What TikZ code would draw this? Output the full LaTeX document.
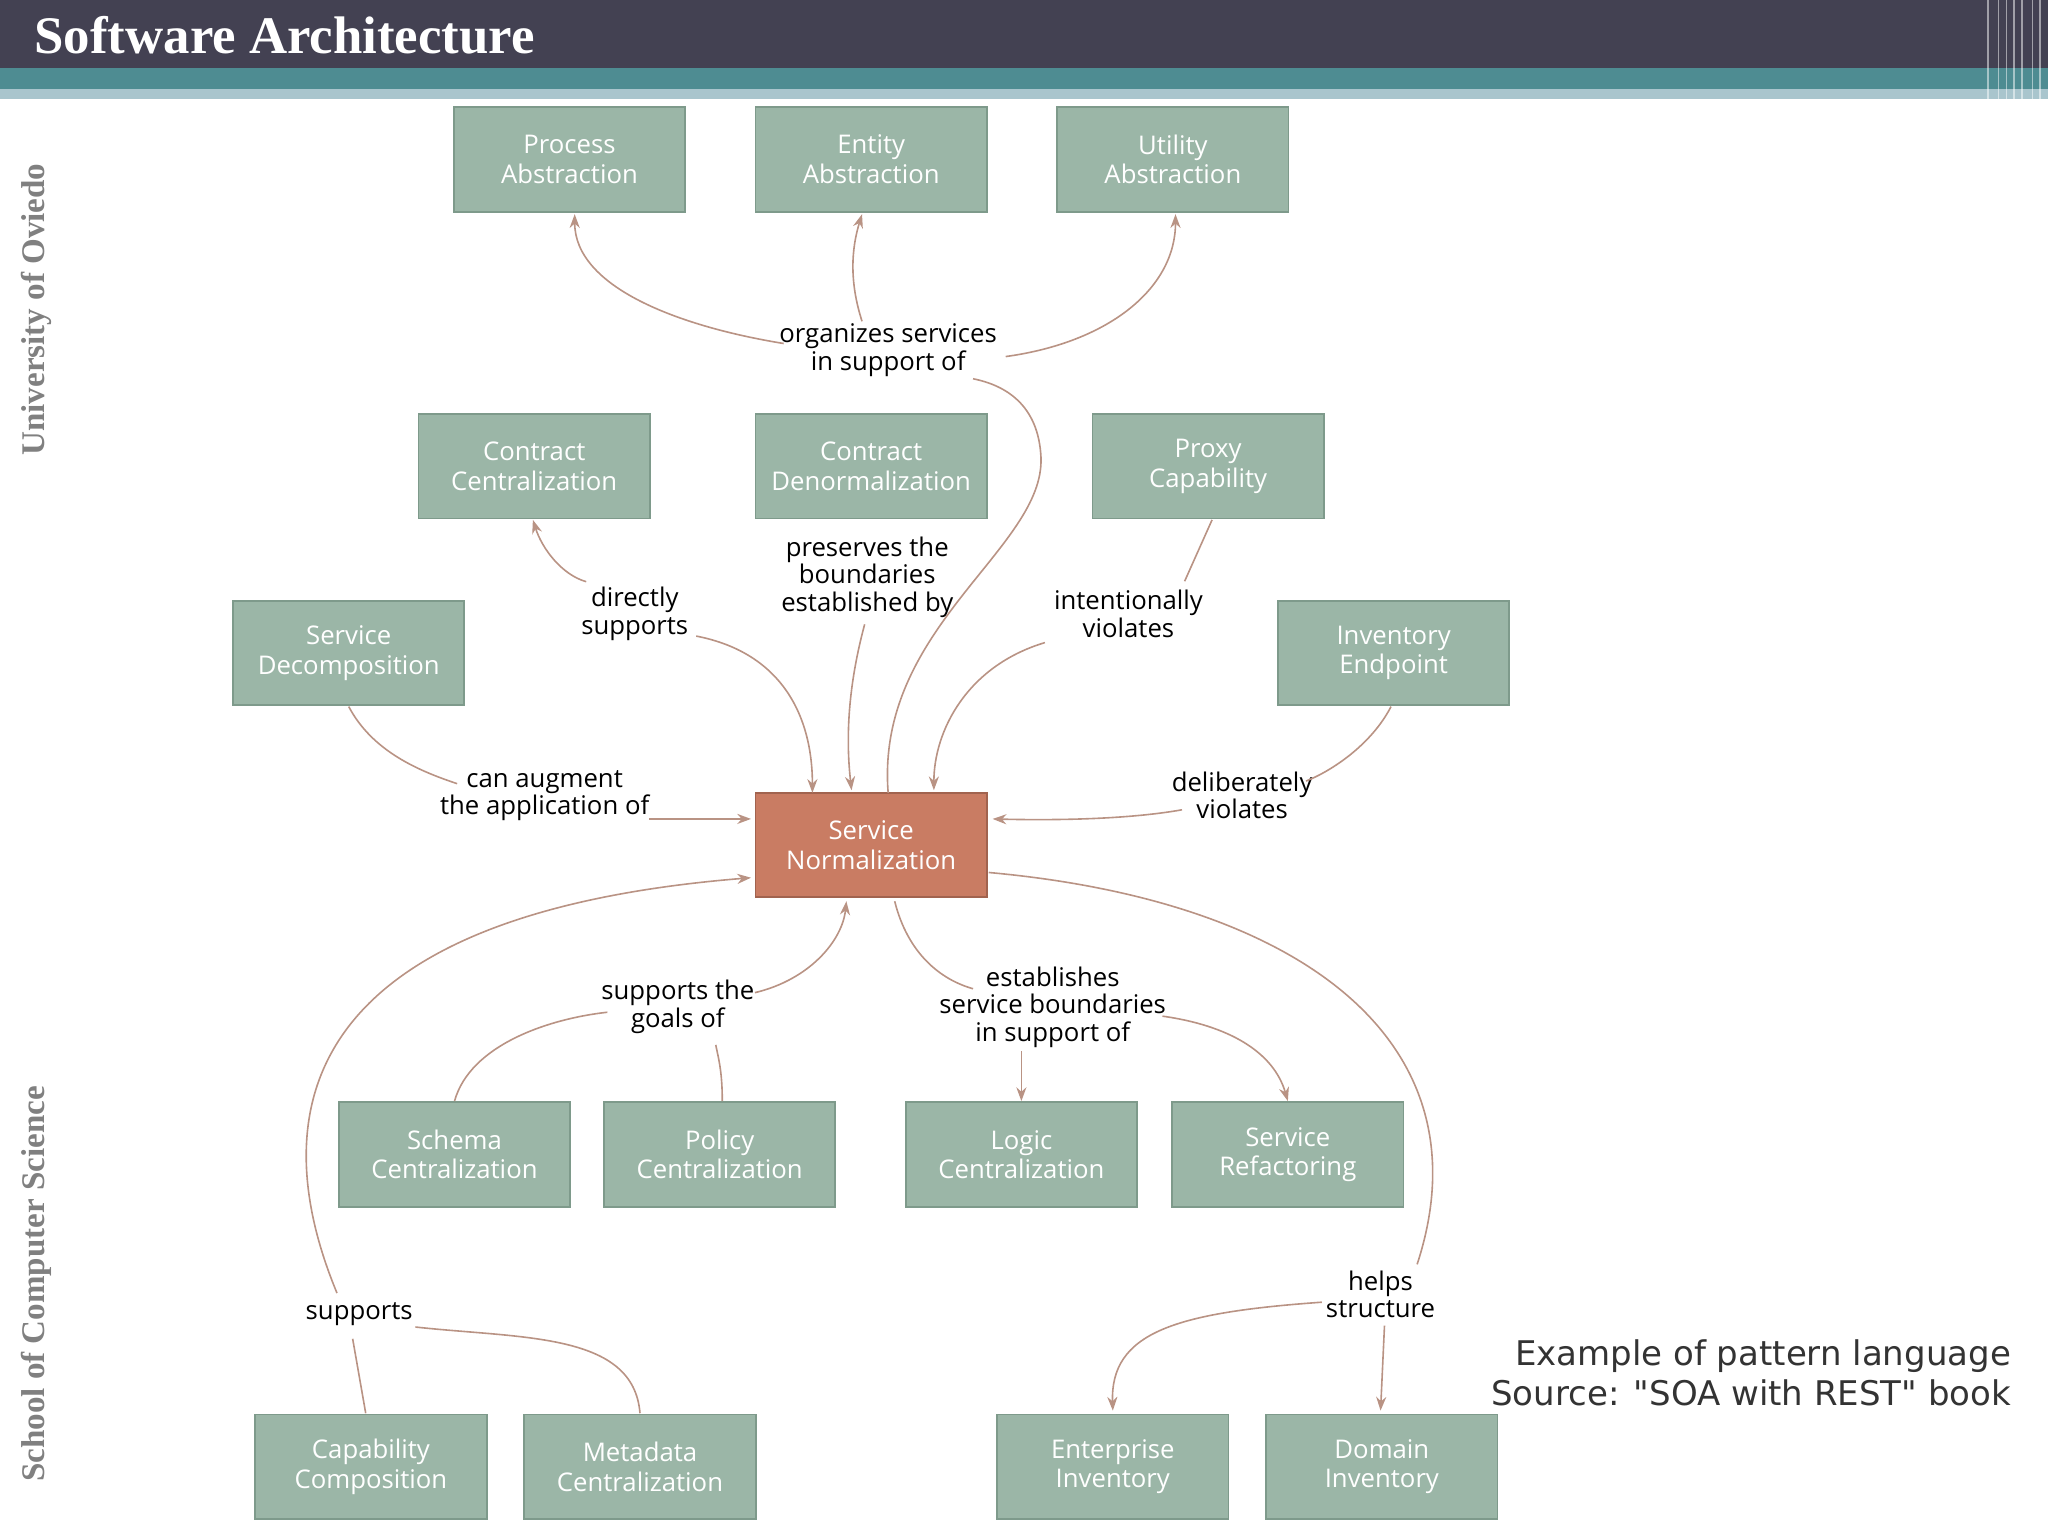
\documentclass[tikz,border=0pt]{standalone}
\usepackage{fontspec}
\setmainfont{Liberation Serif}
\newfontfamily\boxfont{Open Sans}
\newfontfamily\sidefont{DejaVu Sans}
\usetikzlibrary{arrows.meta}
\definecolor{hdr}{HTML}{434152}
\definecolor{teal1}{HTML}{4E8C92}
\definecolor{teal2}{HTML}{A9C5CD}
\definecolor{boxc}{HTML}{9BB6A7}
\definecolor{boxd}{HTML}{7E9A8B}
\definecolor{snc}{HTML}{C97C63}
\definecolor{edge}{HTML}{B99384}
\begin{document}
\begin{tikzpicture}[x=0.01cm,y=-0.01cm,
  box/.style={draw=boxd,fill=boxc,minimum width=1.77cm,minimum height=0.8cm,align=center,text=white,font=\boxfont\fontsize{5.6}{6.4}\selectfont,inner sep=0pt},
  sn/.style={box,fill=snc,draw=snc!80!black},
  lab/.style={align=center,font=\boxfont\fontsize{5.6}{6}\selectfont,inner sep=1pt},
  e/.style={draw=edge,line width=0.35pt},
  a/.style={e,-{Stealth[length=3pt,width=2.2pt]}}]
\useasboundingbox (0,0) rectangle (1568,1176);
% header
\fill[hdr] (0,0) rectangle (1568,52);
\fill[teal1] (0,52) rectangle (1568,68);
\fill[teal2] (0,68) rectangle (1568,76);
\foreach \x in {1522,1530,1536,1542,1548,1556,1562}{\draw[white,opacity=0.5,line width=0.3pt] (\x,0) -- (\x,76);}
\node[anchor=west,text=white,font=\bfseries\fontsize{11.5}{12}\selectfont] (title) at (14,27) {Software Architecture};
\node[rotate=90,text=gray,font=\bfseries\fontsize{7.2}{8}\selectfont] (uo) at (28,237) {University of Oviedo};
\node[rotate=90,text=gray,font=\bfseries\fontsize{7.2}{8}\selectfont] (scs) at (28,983) {School of Computer Science};
\node[anchor=east,align=right,font=\sidefont\fontsize{7.4}{8.8}\selectfont,text=black!80] (note) at (1552,1051) {Example of pattern language\\Source: "SOA with REST" book};
% boxes
\node[box] (pa) at (436,122) {Process\\Abstraction};
\node[box] (ea) at (667,122) {Entity\\Abstraction};
\node[box] (ua) at (898,122) {Utility\\Abstraction};
\node[box] (cc) at (409,357) {Contract\\Centralization};
\node[box] (cd) at (667,357) {Contract\\Denormalization};
\node[box] (pc) at (925,357) {Proxy\\Capability};
\node[box] (sd) at (267,500) {Service\\Decomposition};
\node[box] (ie) at (1067,500) {Inventory\\Endpoint};
\node[sn] (sn) at (667,647) {Service\\Normalization};
\node[box] (sc) at (348,884) {Schema\\Centralization};
\node[box] (pol) at (551,884) {Policy\\Centralization};
\node[box] (lc) at (782,884) {Logic\\Centralization};
\node[box] (sr) at (986,884) {Service\\Refactoring};
\node[box] (cap) at (284,1123) {Capability\\Composition};
\node[box] (mc) at (490,1123) {Metadata\\Centralization};
\node[box] (ei) at (852,1123) {Enterprise\\Inventory};
\node[box] (di) at (1058,1123) {Domain\\Inventory};
% labels
\node[lab] (l1) at (680,268) {organizes services\\in support of};
\node[lab] (l2) at (486,470) {directly\\supports};
\node[lab] (l3) at (664,442) {preserves the\\boundaries\\established by};
\node[lab] (l4) at (864,470) {intentionally\\violates};
\node[lab] (l5) at (417,609) {can augment\\the application of};
\node[lab] (l6) at (951,609) {deliberately\\violates};
\node[lab] (l7) at (519,771) {supports the\\goals of};
\node[lab] (l8) at (806,771) {establishes\\service boundaries\\in support of};
\node[lab] (l9) at (275,1006) {supports};
\node[lab] (l10) at (1057,991) {helps\\structure};
% coordinates
\coordinate (l1w) at (600,263); \coordinate (l1t) at (660,246); \coordinate (l1e) at (770,273); \coordinate (l1b) at (745,290);
\coordinate (pab) at (440,164); \coordinate (eab) at (660,164); \coordinate (uab) at (900,164);
% edges
\draw[a] (l1w) .. controls (520,250) and (440,220) .. (pab);
\draw[a] (l1t) .. controls (650,215) and (652,190) .. (eab);
\draw[a] (l1e) .. controls (850,262) and (900,220) .. (uab);
\draw[e] (680,607) .. controls (670,480) and (800,420) .. (797,350) .. controls (795,310) and (770,295) .. (l1b);
\draw[a] (533,487) .. controls (600,500) and (622,550) .. (622,607);
\draw[a] (l2.north west) ++(8,0) .. controls (430,440) and (415,420) .. (408,398);
\draw[a] (662,478) .. controls (648,530) and (648,570) .. (652,605);
\draw[e] (928,398) -- (907,445);
\draw[a] (800,492) .. controls (740,510) and (715,560) .. (715,605);
\draw[e] (267,541) .. controls (285,575) and (320,590) .. (350,600);
\draw[a] (497,627) -- (575,627);
\draw[e] (1065,541) .. controls (1050,570) and (1020,590) .. (1000,598);
\draw[a] (905,620) .. controls (860,628) and (800,628) .. (760,627);
\draw[e] (348,843) .. controls (360,800) and (420,780) .. (465,775);
\draw[e] (553,843) .. controls (553,820) and (550,810) .. (548,800);
\draw[a] (578,760) .. controls (620,750) and (645,720) .. (648,690);
\draw[e] (685,690) .. controls (695,730) and (720,750) .. (745,757);
\draw[a] (782,805) -- (782,843);
\draw[a] (890,778) .. controls (940,785) and (975,805) .. (986,843);
\draw[e] (280,1082) -- (270,1025);
\draw[e] (490,1082) .. controls (485,1020) and (400,1025) .. (318,1016);
\draw[a] (258,990) .. controls (200,850) and (230,700) .. (575,672);
\draw[e] (757,668) .. controls (1000,690) and (1140,800) .. (1085,968);
\draw[a] (1012,997) .. controls (900,1005) and (850,1020) .. (852,1080);
\draw[a] (1060,1015) -- (1057,1080);
\end{tikzpicture}
\end{document}
